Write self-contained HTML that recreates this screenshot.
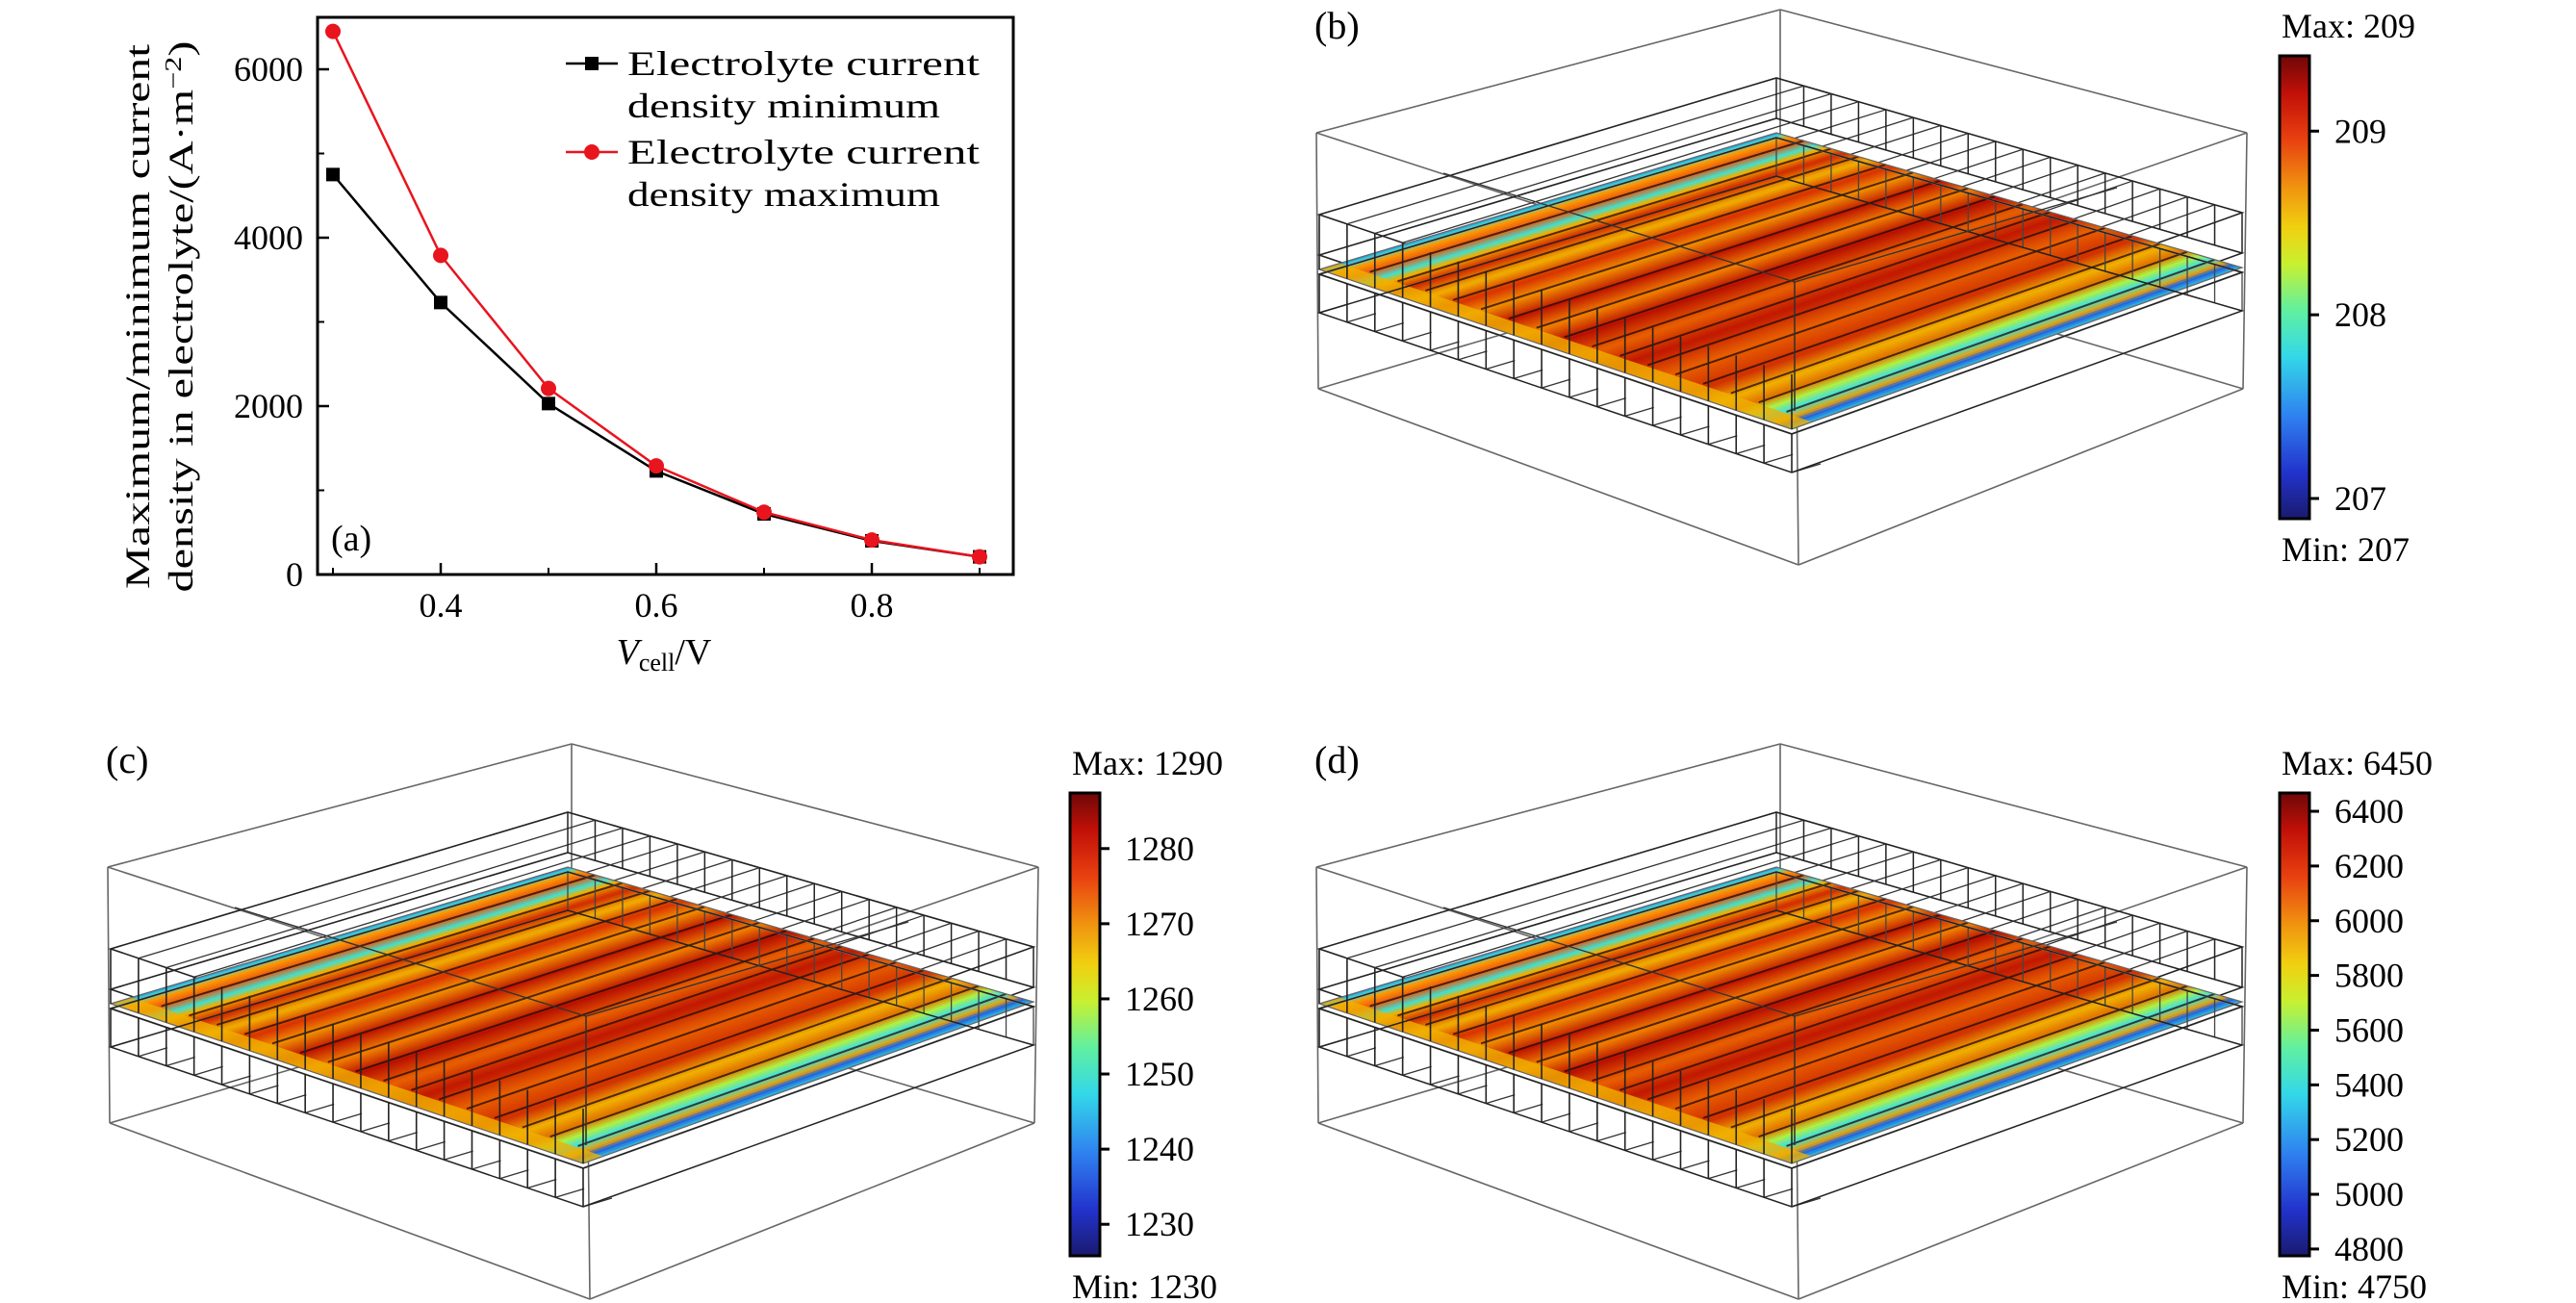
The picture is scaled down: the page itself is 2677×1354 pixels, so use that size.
<!DOCTYPE html>
<html><head><meta charset="utf-8"><style>
html,body{margin:0;padding:0;background:#fff;}
svg{display:block;}
text{font-family:"Liberation Serif",serif;fill:#000;}
</style></head><body>
<svg id="root" xmlns="http://www.w3.org/2000/svg" width="2677" height="1354" viewBox="0 0 2677 1354">
<defs>
<linearGradient id="cmap" x1="0" y1="1" x2="0" y2="0">
<stop offset="0" stop-color="#1a1a6e"/><stop offset="0.1" stop-color="#2233cc"/><stop offset="0.22" stop-color="#2f80f0"/>
<stop offset="0.35" stop-color="#33d8e8"/><stop offset="0.45" stop-color="#60f0a0"/><stop offset="0.55" stop-color="#c8f030"/>
<stop offset="0.63" stop-color="#f0d010"/><stop offset="0.72" stop-color="#f09010"/><stop offset="0.82" stop-color="#e84010"/>
<stop offset="0.92" stop-color="#c01008"/><stop offset="1" stop-color="#6e0808"/>
</linearGradient>
</defs>
<g id="chartA"></g>
<g id="panels"></g>
</svg>
<script>
// ---- chart (a) data ----
const vCell = [0.3, 0.4, 0.5, 0.6, 0.7, 0.8, 0.9];
const jMin = [4750, 3230, 2030, 1230, 720, 400, 210];
const jMax = [6450, 3790, 2210, 1290, 740, 410, 210];
const xTicks = [0.4, 0.6, 0.8];
const yTicks = [0, 2000, 4000, 6000];
// ---- colorbar data ----
const barsB = [207, 208, 209];
const barsC = [1230, 1240, 1250, 1260, 1270, 1280];
const barsD = [4800, 5000, 5200, 5400, 5600, 5800, 6000, 6200, 6400];
const rangeB = [206.89, 209.41];
const rangeC = [1225.8, 1287.4];
const rangeD = [4775, 6467];
const minMaxB = ["207", "209"];
const minMaxC = ["1230", "1290"];
const minMaxD = ["4750", "6450"];

const NS = "http://www.w3.org/2000/svg";
function mk(tag, attrs, parent) {
  const e = document.createElementNS(NS, tag);
  for (const k in attrs) e.setAttribute(k, attrs[k]);
  parent.appendChild(e);
  return e;
}
const A = document.getElementById('chartA');
const X0 = 330, X1 = 1053, Y0 = 18, Y1 = 597;
const sx = v => 458 + (v - 0.4) * 1120;
const sy = v => 597 - v * (525 / 6000);

let fr = mk('rect', {x: X0, y: Y0, width: X1 - X0, height: Y1 - Y0, fill: 'none', stroke: '#000', 'stroke-width': 3}, A);


yTicks.forEach(t => {
  let l = mk('line', {x1: X0, x2: X0 + 12, y1: sy(t), y2: sy(t), stroke: '#000', 'stroke-width': 2.5}, A);
  
  
  let m = mk('line', {x1: X0, x2: X0 + 7, y1: sy(t + 1000), y2: sy(t + 1000), stroke: '#000', 'stroke-width': 2}, A);
  
  
  let tx = mk('text', {x: 315, y: sy(t) + 12, 'text-anchor': 'end', 'font-size': 36}, A);
  tx.textContent = String(t);
  
  
});
[0.3, 0.5, 0.7, 0.9].forEach(t => {
  let m = mk('line', {x1: sx(t), x2: sx(t), y1: Y1, y2: Y1 - 7, stroke: '#000', 'stroke-width': 2}, A);
  
  
});
xTicks.forEach(t => {
  let l = mk('line', {x1: sx(t), x2: sx(t), y1: Y1, y2: Y1 - 12, stroke: '#000', 'stroke-width': 2.5}, A);
  
  
  let tx = mk('text', {x: sx(t), y: 641, 'text-anchor': 'middle', 'font-size': 36}, A);
  tx.textContent = t.toFixed(1);
  
  
});
function series(vals, color, marker, name) {
  const g = mk('g', {}, A);
  
  
  const pts = vals.map((v, i) => sx(vCell[i]) + ',' + sy(v)).join(' ');
  let pl = mk('polyline', {points: pts, fill: 'none', stroke: color, 'stroke-width': 2.5}, g);
  
  
  vals.forEach((v, i) => {
    let p;
    if (marker === 'sq') p = mk('rect', {x: sx(vCell[i]) - 7, y: sy(v) - 7, width: 14, height: 14, fill: color}, g);
    else p = mk('circle', {cx: sx(vCell[i]), cy: sy(v), r: 8, fill: color}, g);
    
    
  });
}
series(jMin, '#000', 'sq', 'series-minimum');
series(jMax, '#e8141e', 'ci', 'series-maximum');
[[66, '#000', 'sq', 'Electrolyte current', 'density minimum'], [158, '#e8141e', 'ci', 'Electrolyte current', 'density maximum']].forEach(([y, c, m, t1, t2]) => {
  const g = mk('g', {}, A);
  
  
  mk('line', {x1: 588, x2: 642, y1: y, y2: y, stroke: c, 'stroke-width': 2.5}, g);
  if (m === 'sq') mk('rect', {x: 608, y: y - 7, width: 14, height: 14, fill: c}, g);
  else mk('circle', {cx: 615, cy: y, r: 8, fill: c}, g);
  let a = mk('text', {x: 652, y: y + 12, 'font-size': 36, textLength: 366, lengthAdjust: 'spacingAndGlyphs'}, g);
  a.textContent = t1;
  let b = mk('text', {x: 652, y: y + 56, 'font-size': 36, textLength: t2.length > 15 ? 336 : 325, lengthAdjust: 'spacingAndGlyphs'}, g);
  b.textContent = t2;
});
let pa = mk('text', {x: 344, y: 572, 'font-size': 38}, A);
pa.textContent = '(a)';


let xt = mk('text', {x: 690, y: 690, 'text-anchor': 'middle', 'font-size': 38}, A);
xt.innerHTML = '<tspan font-style="italic">V</tspan><tspan font-size="26" dy="7">cell</tspan><tspan dy="-7">/V</tspan>';


let yt1 = mk('text', {x: 0, y: 0, transform: 'translate(155,329) rotate(-90)', 'text-anchor': 'middle', 'font-size': 36, textLength: 566, lengthAdjust: 'spacingAndGlyphs'}, A);
yt1.textContent = 'Maximum/minimum current';


let yt2 = mk('text', {x: 0, y: 0, transform: 'translate(200,329) rotate(-90)', 'text-anchor': 'middle', 'font-size': 36, textLength: 573, lengthAdjust: 'spacingAndGlyphs'}, A);
yt2.innerHTML = 'density in electrolyte/(A·m<tspan font-size="24" dy="-12">−2</tspan><tspan dy="12">)</tspan>';



// ---- 3D panels (styling only) ----
const stripeStops = [[0,'#2a8fe0'],[0.015,'#40e0d0'],[0.03,'#ff9a00'],[0.06,'#e85a10'],[0.09,'#40e0d0'],[0.11,'#f0b000'],[0.15,'#d02800'],
 [0.2,'#f0b000'],[0.25,'#d83000'],[0.3,'#f09000'],[0.36,'#c01800'],[0.42,'#f08000'],[0.48,'#b81000'],[0.55,'#e86000'],
 [0.62,'#c01800'],[0.7,'#e86000'],[0.78,'#d03000'],[0.84,'#f0b000'],[0.88,'#e07000'],[0.91,'#b0f040'],[0.94,'#40e0e0'],
 [0.965,'#f0a000'],[0.98,'#2060e0'],[1,'#33bbdd']];
function hex(c){return [1,3,5].map(i=>parseInt(c.substr(i,2),16));}
function sampleColor(s){
  for (let i=1;i<stripeStops.length;i++){
    if (s<=stripeStops[i][0]){
      const [s0,c0]=stripeStops[i-1],[s1,c1]=stripeStops[i];
      const t=(s-s0)/(s1-s0),a=hex(c0),b=hex(c1);
      return 'rgb('+a.map((v,j)=>Math.round(v+(b[j]-v)*t)).join(',')+')';
    }
  }
  return stripeStops[stripeStops.length-1][1];
}
const P = document.getElementById('panels');
function lerp(a,b,t){return [a[0]+(b[0]-a[0])*t,a[1]+(b[1]-a[1])*t];}
function panel(ox, oy, label, name) {
  const g = mk('g', {transform: `translate(${ox},${oy})`}, P);
  
  
  const ln = (x1, y1, x2, y2, w, c) => mk('line', {x1, y1, x2, y2, stroke: c || '#555', 'stroke-width': w || 1.6}, g);
  const BT = [1850, 10], LT = [1368, 138], RT = [2335, 138], FT = [1866, 300];
  const BB = [1850, 262], LB = [1370, 404], RB = [2331, 404], FB = [1869, 587];
  [[BT, LT], [BT, RT], [LT, FT], [RT, FT], [BB, LB], [BB, RB], [LB, FB], [RB, FB], [BT, BB], [LT, LB], [RT, RB], [FT, FB]].forEach(([a, b]) => ln(a[0], a[1], b[0], b[1], 1.6, '#666'));
  const L = [1371, 280], B = [1846, 138], R = [2330, 278], F = [1862, 446];
  const poly = (dy) => [L, B, R, F].map(p => p[0] + ',' + (p[1] + dy)).join(' ');
  [-57, -15].forEach(dy => mk('polygon', {points: poly(dy), fill: 'none', stroke: '#222', 'stroke-width': 1.6}, g));
  // upper channel lines parallel to stripes
  for (let k = 1; k < 17; k++) {
    const s = k / 17;
    const p = lerp(L, F, s), q = lerp(B, R, s);
    ln(p[0], p[1] - 57, q[0], q[1] - 57, 1.3, '#333');
  }
  // plate stripes as quads
  const pg = mk('g', {}, g);
  
  
  const N = 140;
  for (let i = 0; i < N; i++) {
    const s0 = i / N, s1 = (i + 1) / N;
    const a = lerp(L, F, s0), b = lerp(B, R, s0), c = lerp(B, R, s1), d = lerp(L, F, s1);
    const col = sampleColor((s0 + s1) / 2);
    mk('polygon', {points: [a, b, c, d].map(p => p[0] + ',' + p[1]).join(' '), fill: col, stroke: col, 'stroke-width': 0.8}, pg);
  }
  // yellow band along front-left edge
  const e1 = lerp(L, B, 0.045), e2 = lerp(F, R, 0.045);
  mk('polygon', {points: [L, F, e2, e1].map(p => p[0] + ',' + p[1]).join(' '), fill: '#f0b000', 'fill-opacity': 0.8}, pg);
  // dark channel lines on plate
  for (let k = 1; k < 17; k++) {
    const s = k / 17;
    const p = lerp(L, F, s), q = lerp(B, R, s);
    const p2 = lerp(p, q, 0.05);
    ln(p2[0], p2[1], q[0], q[1], 2, 'rgba(30,8,4,0.75)');
  }
  mk('polygon', {points: poly(0), fill: 'none', stroke: '#666', 'stroke-width': 1.2}, g);
  mk('polygon', {points: poly(5), fill: 'none', stroke: '#999', 'stroke-width': 2}, g);
  // ribs
  for (let k = 0; k <= 17; k++) {
    const s = k / 17;
    const p = lerp(L, F, s), q = lerp(B, R, s);
    ln(p[0], p[1] - 57, p[0], p[1], 1.6, '#222');
    ln(p[0], p[1] + 5, p[0], p[1] + 45, 1.6, '#222');
    ln(q[0], q[1] - 57, q[0], q[1] - 15, 1.5, '#222');
    ln(q[0], q[1] + 5, q[0], q[1] + 45, 1.3, '#444');
    // short cross lines in lower channel
    ln(p[0], p[1] + 45, p[0] + 30, p[1] + 36, 1.3, '#333');
  }
  [5, 45].forEach(dy => mk('polygon', {points: poly(dy), fill: 'none', stroke: '#222', 'stroke-width': 1.5}, g));
  // inner box front edge
  ln(1865, 293, 1865, 427, 1.6, '#333');
  ln(1865, 293, 1500, 180, 1.4, '#333');
  ln(1865, 293, 2200, 195, 1.4, '#333');
  let lb = mk('text', {x: 1366, y: 40, 'font-size': 40}, g);
  lb.textContent = label;
  
  
}
function colorbar(x, yTop, yBot, range, ticks, mm, name) {
  const g = mk('g', {}, P);
  
  
  mk('rect', {x: x, y: yTop, width: 31, height: yBot - yTop, fill: 'url(#cmap)', stroke: '#000', 'stroke-width': 3}, g);
  const ty = v => yBot - (v - range[0]) / (range[1] - range[0]) * (yBot - yTop);
  ticks.forEach(t => {
    let l = mk('line', {x1: x + 31, x2: x + 41, y1: ty(t), y2: ty(t), stroke: '#000', 'stroke-width': 3}, g);
    
    
    let tx = mk('text', {x: x + 57, y: ty(t) + 12, 'font-size': 36}, g);
    tx.textContent = String(t);
    
    
  });
  let mx = mk('text', {x: x + 2, y: yTop - 19, 'font-size': 36}, g);
  mx.textContent = 'Max: ' + mm[1];
  
  
  let mn = mk('text', {x: x + 2, y: yBot + 44, 'font-size': 36}, g);
  mn.textContent = 'Min: ' + mm[0];
  
  
}
panel(0, 0, '(b)', 'panel-b');
panel(-1256, 763, '(c)', 'panel-c');
panel(0, 763, '(d)', 'panel-d');
colorbar(2369, 58, 539, rangeB, barsB, minMaxB, 'colorbar-b');
colorbar(1112, 824, 1305, rangeC, barsC, minMaxC, 'colorbar-c');
colorbar(2369, 824, 1305, rangeD, barsD, minMaxD, 'colorbar-d');
</script>
</body></html>
